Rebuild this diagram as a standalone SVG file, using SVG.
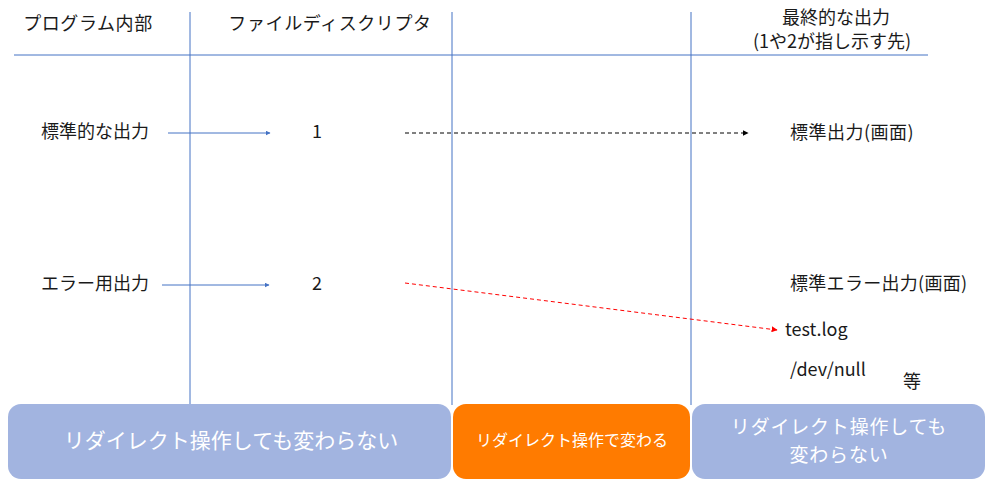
<svg xmlns="http://www.w3.org/2000/svg" width="991" height="486" viewBox="0 0 991 486">
<style>
  .t { font-family: "Noto Sans CJK JP", "Noto Sans", sans-serif; font-size: 18px; fill: #1a1a1a; }
  .h { letter-spacing: 0.6px; }
  .w { font-family: "Noto Sans CJK JP", "Noto Sans", sans-serif; fill: #ffffff; }
  .grid { stroke: #4472C4; stroke-width: 1; fill: none; }
  .blue { stroke: #4472C4; stroke-width: 1; fill: none; }
</style>
<defs>
  <marker id="ab" viewBox="0 0 10 10" refX="9" refY="5" markerWidth="5" markerHeight="5" orient="auto" markerUnits="userSpaceOnUse">
    <path d="M0,0 L10,5 L0,10 z" fill="#4472C4"/>
  </marker>
  <marker id="ak" viewBox="0 0 10 10" refX="9" refY="5" markerWidth="6" markerHeight="6" orient="auto" markerUnits="userSpaceOnUse">
    <path d="M0,0 L10,5 L0,10 z" fill="#000000"/>
  </marker>
  <marker id="ar" viewBox="0 0 10 10" refX="9" refY="5" markerWidth="6" markerHeight="6" orient="auto" markerUnits="userSpaceOnUse">
    <path d="M0,0 L10,5 L0,10 z" fill="#FF0000"/>
  </marker>
</defs>

<g id="grid">
  <line class="grid" x1="14" y1="55" x2="928" y2="55"/>
  <line class="grid" x1="190" y1="12" x2="190" y2="405"/>
  <line class="grid" x1="452" y1="12" x2="452" y2="405"/>
  <line class="grid" x1="691" y1="12" x2="691" y2="405"/>
</g>

<g id="headers">
  <text class="t h" x="88" y="30" text-anchor="middle">プログラム内部</text>
  <text class="t h" x="330" y="30" text-anchor="middle">ファイルディスクリプタ</text>
  <text class="t" text-anchor="middle"><tspan x="836" y="24">最終的な出力</tspan><tspan x="832" y="48">(1や2が指し示す先)</tspan></text>
</g>

<g id="node-stdout-src"><text class="t" x="41" y="138">標準的な出力</text></g>
<g id="node-fd1"><text class="t" x="317" y="138" text-anchor="middle">1</text></g>
<g id="node-stdout"><text class="t" x="790" y="139" letter-spacing="0.5">標準出力(画面)</text></g>
<g id="node-stderr-src"><text class="t" x="41" y="290">エラー用出力</text></g>
<g id="node-fd2"><text class="t" x="317" y="290" text-anchor="middle">2</text></g>
<g id="node-stderr"><text class="t" x="790" y="290" letter-spacing="0.3">標準エラー出力(画面)</text></g>
<g id="node-testlog"><text class="t" x="785" y="336">test.log</text></g>
<g id="node-devnull"><text class="t" x="790" y="376">/dev/null</text></g>
<g id="node-etc"><text class="t" x="903" y="388">等</text></g>

<g id="connectors">
  <line class="blue" x1="168" y1="133" x2="270" y2="133" marker-end="url(#ab)"/>
  <line class="blue" x1="162" y1="285" x2="269" y2="285" marker-end="url(#ab)"/>
  <line x1="405" y1="133" x2="748" y2="133" stroke="#000" stroke-width="1" stroke-dasharray="4,3" marker-end="url(#ak)"/>
  <line x1="405" y1="283" x2="777" y2="330" stroke="#FF0000" stroke-width="1" stroke-dasharray="4,3" marker-end="url(#ar)"/>
</g>

<g id="box-left">
  <rect x="8" y="404" width="443" height="75" rx="13" fill="#A2B4E0"/>
  <text class="w" x="231" y="448" font-size="21" text-anchor="middle">リダイレクト操作しても変わらない</text>
</g>
<g id="box-mid">
  <rect x="453" y="404" width="237" height="75" rx="13" fill="#FF7B00"/>
  <text class="w" x="572" y="446" font-size="16" text-anchor="middle">リダイレクト操作で変わる</text>
</g>
<g id="box-right">
  <rect x="692" y="404" width="293" height="75" rx="13" fill="#A2B4E0"/>
  <text class="w" font-size="19" letter-spacing="0.8" text-anchor="middle"><tspan x="839" y="434">リダイレクト操作しても</tspan><tspan x="839" y="462">変わらない</tspan></text>
</g>
</svg>
